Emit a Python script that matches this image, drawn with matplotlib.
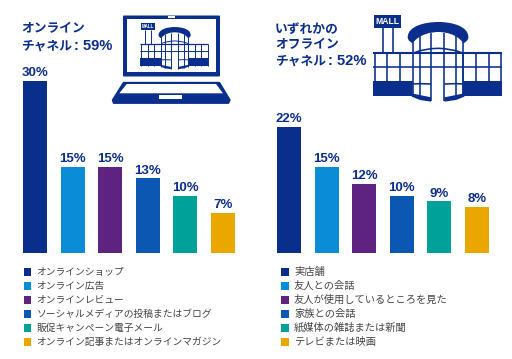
import matplotlib
matplotlib.use("Agg")
import matplotlib.pyplot as plt
from matplotlib.patches import Rectangle, Polygon, FancyBboxPatch, PathPatch
from matplotlib.path import Path

plt.rcParams['font.family'] = ['Noto Sans CJK JP', 'DejaVu Sans']

W, H = 512, 359
NAVY = "#0a2e8c"
colors = ["#0a2e8c", "#0a8dd6", "#5e2280", "#0b57b2", "#00a199", "#eaa700"]

online_values = [30, 15, 15, 13, 10, 7]
online_labels = ["オンラインショップ", "オンライン広告", "オンラインレビュー",
                 "ソーシャルメディアの投稿またはブログ", "販促キャンペーン電子メール",
                 "オンライン記事またはオンラインマガジン"]
offline_values = [22, 15, 12, 10, 9, 8]
offline_labels = ["実店舗", "友人との会話", "友人が使用しているところを見た",
                  "家族との会話", "紙媒体の雑誌または新聞", "テレビまたは映画"]
online_title = ["オンライン"]
online_share = ": 59%"
offline_title = ["いずれかの", "オフライン"]
offline_share = ": 52%"
channel = "チャネル"

fig = plt.figure(figsize=(W / 100, H / 100), dpi=100)

# overlay in pixels for icons and texts
bg = fig.add_axes([0, 0, 1, 1])
bg.set_xlim(0, W)
bg.set_ylim(H, 0)
bg.axis("off")


def bars(x0, x1, values):
    # 30 % is 173 px tall
    top = 253 - 5.75 * 30
    ax = fig.add_axes([x0 / W, (H - 253) / H, (x1 - x0) / W, (253 - top) / H])
    ax.patch.set_alpha(0)
    xs = range(len(values))
    ax.bar(xs, values, width=0.65, color=colors)
    for x, v in zip(xs, values):
        ax.text(x, v + 0.3, f"{v}%", ha="center", va="bottom", color=NAVY,
                fontsize=9.5, fontweight="bold", family="Liberation Sans")
    ax.set_xlim(-0.325, 5.325)
    ax.set_ylim(0, 30)
    ax.axis("off")


bars(23, 235, online_values)
bars(277, 489, offline_values)


def legend(x, labels, size):
    for i, (lab, c) in enumerate(zip(labels, colors)):
        y = 271.5 + i * 14
        bg.add_patch(Rectangle((x, y - 3.5), 7.5, 7.5, color=c, lw=0))
        bg.text(x + 13, y, lab, va="center", ha="left", fontsize=size, color="#444444")


legend(23.5, online_labels, 7.0)
legend(281, offline_labels, 7.4)


def title(x, ys, lines, share):
    for y, s in zip(ys, lines + [channel]):
        bg.text(x, y, s, va="center", ha="left", color=NAVY, fontsize=9.2, fontweight="bold")
    bg.text(x + 53, ys[-1], share, va="center", ha="left", color=NAVY, fontsize=10.6,
            fontweight="bold", family="Liberation Sans")


title(21.5, [29, 46], online_title, online_share)
title(275, [29, 45, 61], offline_title, offline_share)


def store(ox, oy, s, lw):
    # icon coordinates are 3x pixels of the big store
    X = lambda u: ox + s * (u - 8) / 3
    Y = lambda v: oy + s * (v - 15) / 3

    def rect(u0, v0, u1, v1):
        bg.add_patch(Rectangle((X(u0), Y(v0)), s * (u1 - u0) / 3, s * (v1 - v0) / 3, color=NAVY, lw=0))

    def line(us, vs, k=1.0):
        bg.plot([X(u) for u in us], [Y(v) for v in vs], color=NAVY, lw=lw * k, solid_capstyle="butt", zorder=4)

    def poly(pts, c=NAVY, z=3):
        bg.add_patch(Polygon([(X(u), Y(v)) for u, v in pts], closed=True, fc=c, ec="none", zorder=z))

    # sign
    rect(13, 15, 93, 55)
    bg.text(X(53), Y(35), "MALL", color="white", ha="center", va="center",
            fontsize=6.2 * s, fontweight="bold", family="Liberation Sans")
    line([38, 38], [55, 130])
    line([70, 70], [55, 130])
    # wings
    line([8, 395], [130, 130], 1.3)
    rect(10, 213, 130, 258)
    rect(275, 213, 395, 258)
    line([10, 130], [172, 172])
    line([275, 395], [172, 172])
    for u in [14, 52, 90, 280, 318, 356, 392]:
        line([u, u], [130, 258])
    # rotunda
    poly([(128, 90), (205, 60), (280, 90), (280, 262), (128, 262)], "white", 2)
    dome = [(113, 82), (113, 48), (165, 36), (205, 36), (245, 36), (295, 48), (295, 82),
            (295, 92), (285, 97), (280, 100),
            (262, 72), (225, 66), (205, 66), (185, 66), (146, 72), (128, 100),
            (123, 97), (113, 92), (113, 82), (113, 82)]
    codes = [Path.MOVETO] + [Path.CURVE4] * 18 + [Path.CLOSEPOLY]
    bg.add_patch(PathPatch(Path([(X(u), Y(v)) for u, v in dome], codes), fc=NAVY, ec="none", zorder=3))
    for u, v0, v1 in [(128, 95, 262), (150, 78, 266), (183, 70, 272), (223, 70, 272), (258, 78, 266), (280, 95, 262)]:
        line([u, u], [v0, v1])
    line([128, 150, 183, 205, 223, 258, 280], [130, 122, 116, 115, 116, 122, 130])
    line([128, 280], [172, 172])
    line([128, 150, 183], [222, 221, 222])
    line([223, 258, 280], [222, 221, 222])
    # door sill
    poly([(125, 250), (183, 262), (183, 275), (150, 270), (125, 260)])
    poly([(283, 250), (223, 262), (223, 275), (258, 270), (283, 260)])


store(372.7, 15, 1.0, 1.15)

# laptop
bg.add_patch(FancyBboxPatch((123, 15.5), 97, 61, boxstyle="round,pad=0,rounding_size=1", fc=NAVY, ec="none"))
bg.add_patch(Rectangle((126.7, 19), 89.3, 53.3, fc="white", ec="none"))
bg.add_patch(Rectangle((168, 16.2), 7, 1.8, fc="white", ec="none"))
bg.add_patch(Polygon([(123.5, 82.5), (219.5, 82.5), (230, 100), (228.5, 103.2), (113.5, 103.2), (112.5, 100)],
                     fc=NAVY, ec=NAVY, lw=1, joinstyle="round"))
bg.add_patch(Polygon([(126.7, 84), (216, 84), (223, 93.3), (119.3, 93.3)], fc="white", ec="none"))
bg.add_patch(Rectangle((159.3, 95.3), 22.4, 3.6, fc="white", ec="none"))
store(140, 23.3, 0.53, 0.7)

fig.savefig("out.png", dpi=100)
